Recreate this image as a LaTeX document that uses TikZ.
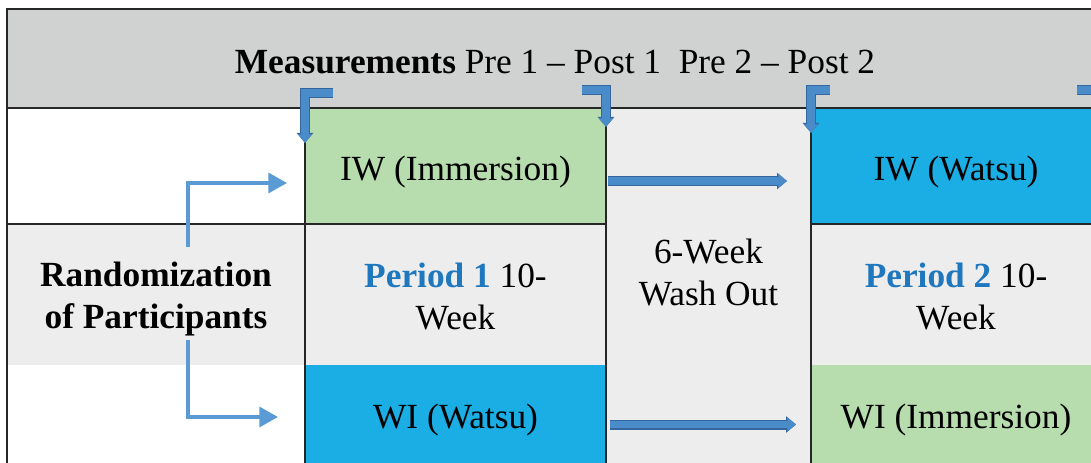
\documentclass[tikz,border=0pt]{standalone}
\usepackage{fontspec}
\setmainfont{Liberation Serif}
\usepackage{tikz}
\usetikzlibrary{arrows.meta}
\definecolor{hdrGray}{RGB}{208,209,209}
\definecolor{rowGray}{RGB}{237,237,237}
\definecolor{immGreen}{RGB}{183,220,174}
\definecolor{watsuBlue}{RGB}{27,174,228}
\definecolor{periodBlue}{RGB}{31,119,189}
\definecolor{lineBlue}{RGB}{91,155,213}
\definecolor{blockBlue}{RGB}{74,139,202}
\definecolor{blockEdge}{RGB}{52,102,160}
\definecolor{gridDark}{RGB}{38,38,38}
\tikzstyle{cell} = [rectangle, inner sep=0pt, outer sep=0pt, text centered, align=center, font=\fontsize{26.5}{31.5}\selectfont]
\tikzstyle{gridLine} = [line width=1.2pt, draw=gridDark]
\tikzstyle{thinArrow} = [line width=2.6pt, draw=lineBlue, -{Triangle[length=14pt, width=15pt]}]
\tikzstyle{blockArrow} = [line width=5.5pt, draw=blockBlue, -{Triangle[length=6.5pt, width=10pt]}, preaction={draw=blockEdge, line width=7.5pt, -{Triangle[length=7.5pt, width=12pt]}}]

\begin{document}
\begin{tikzpicture}[x=0.75pt, y=-0.75pt]
		\clip (0,0) rectangle (1091,463);
		\fill [hdrGray] (7,9) rectangle (1101,108);
		\fill [rowGray] (7,224) rectangle (1101,365);
		\fill [immGreen] (305,108) rectangle (606,224);
		\fill [watsuBlue] (305,365) rectangle (606,470);
		\fill [rowGray] (606,108) rectangle (811,470);
		\fill [watsuBlue] (811,108) rectangle (1101,224);
		\fill [immGreen] (811,365) rectangle (1101,470);
		\draw [gridLine] (1101,9) -- (7,9) -- (7,470);
		\draw [gridLine] (7,108) -- (1101,108);
		\draw [gridLine] (7,224) -- (606,224);
		\draw [gridLine] (811,224) -- (1101,224);
		\draw [gridLine] (305,108) -- (305,470);
		\draw [gridLine] (606,108) -- (606,470);
		\draw [gridLine] (811,108) -- (811,470);
		\node (head) [cell] at (555,62.5) {\textbf{Measurements} Pre 1 – Post 1\ \ Pre 2 – Post 2};
		\node (rand) [cell] at (156,299.5) {\textbf{Randomization}\\\textbf{of Participants}};
		\node (iwImm) [cell] at (455.5,172) {IW (Immersion)};
		\node (per1) [cell] at (455.5,297) {{\bfseries\color{periodBlue}Period 1} 10-\\Week};
		\node (wiWat) [cell] at (455.5,419.5) {WI (Watsu)};
		\node (wash) [cell] at (708.5,273) {6-Week\\Wash Out};
		\node (iwWat) [cell] at (956,172) {IW (Watsu)};
		\node (per2) [cell] at (956,297) {{\bfseries\color{periodBlue}Period 2} 10-\\Week};
		\node (wiImm) [cell] at (956,419.5) {WI (Immersion)};
		\coordinate (randUp) at (188,247);
		\coordinate (iwIn) at (287,183);
		\coordinate (randDown) at (188,340);
		\coordinate (wiIn) at (278,417);
		\draw [thinArrow] (randUp) |- (iwIn);
		\draw [thinArrow] (randDown) |- (wiIn);
		\coordinate (pre1) at (333,93);
		\coordinate (pre1Tip) at (305,143);
		\coordinate (post1) at (582,90);
		\coordinate (post1Tip) at (606,127);
		\coordinate (pre2) at (830,90);
		\coordinate (pre2Tip) at (811,133);
		\coordinate (post2) at (1077,90);
		\coordinate (post2Tip) at (1101,133);
		\draw [blockArrow] (pre1) -| (pre1Tip);
		\draw [blockArrow] (post1) -| (post1Tip);
		\draw [blockArrow] (pre2) -| (pre2Tip);
		\draw [blockArrow] (post2) -| (post2Tip);
		\coordinate (washIn1) at (608,181);
		\coordinate (washOut1) at (787,181);
		\coordinate (washIn2) at (610,424.5);
		\coordinate (washOut2) at (796,424.5);
		\draw [blockArrow] (washIn1) -- (washOut1);
		\draw [blockArrow] (washIn2) -- (washOut2);
	\end{tikzpicture}
\end{document}
